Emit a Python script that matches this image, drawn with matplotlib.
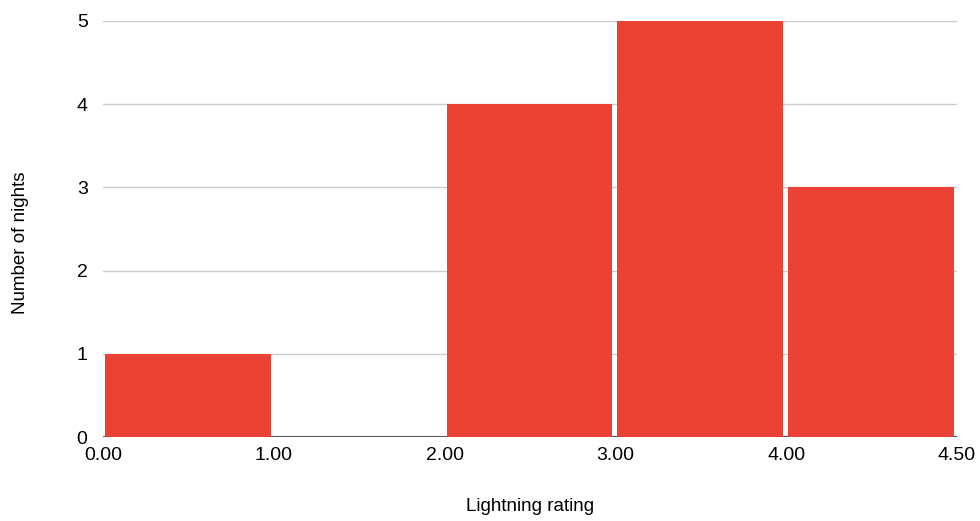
import matplotlib.pyplot as plt
import numpy as np

plt.rcParams['font.family'] = ['Liberation Sans', 'DejaVu Sans']

# histogram buckets (equal-width on screen)
bin_edges = ["0.00", "1.00", "2.00", "3.00", "4.00", "4.50"]
counts = [1, 0, 4, 5, 3]

fig = plt.figure(figsize=(9.8, 5.21), dpi=100)
ax = fig.add_axes([0.105, 0.1612, 0.8715, 0.7985])

x = np.arange(len(counts))
ax.bar(x + 0.012, counts, width=0.97, align='edge', color='#EA4335', zorder=3)

ax.set_xlim(0, len(counts))
ax.set_ylim(0, 5)
ax.set_xticks(np.arange(len(bin_edges)))
ax.set_xticklabels(bin_edges)
ax.set_yticks(range(0, 6))

ax.grid(axis='y', color='#cccccc', linewidth=1, zorder=0)
ax.axhline(0, color='#555555', linewidth=1.5, zorder=2)
for s in ax.spines.values():
    s.set_visible(False)
ax.tick_params(length=0, labelsize=14, colors='#000000')
ax.tick_params(axis='x', pad=7)
ax.tick_params(axis='y', pad=11)

ax.set_xlabel("Lightning rating", fontsize=13.5, va='center')
ax.set_ylabel("Number of nights", fontsize=13.5, va='center')
ax.xaxis.set_label_coords(0.5, -0.166)
ax.yaxis.set_label_coords(-0.097, 0.468)

fig.savefig("out.png", dpi=100)
